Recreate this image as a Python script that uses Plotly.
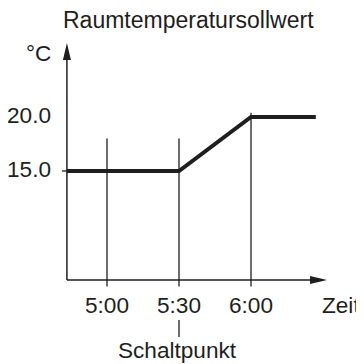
import plotly.graph_objects as go

# ---- data ----
time_labels = ["5:00", "5:30", "6:00"]
time_minutes = [300, 330, 360]          # minutes after midnight
switch_point = 330                      # Schaltpunkt (5:30)
profile_x = [283.3, 330, 360, 387]      # setpoint profile (minutes)
profile_y = [15.0, 15.0, 20.0, 20.0]    # °C
marker_tops = [18.0, 18.0, 20.4]        # tops of vertical time lines
y_tick_vals = [20.0, 15.0]
y_tick_text = ["20.0", "15.0"]

title_text = "Raumtemperatursollwert"
y_unit = "°C"
x_name = "Zeit"
switch_label = "Schaltpunkt"

# ---- layout helpers ----
OFF = 8                 # page body margin
W = H = 364 - OFF
x0_axis = 283.3     # origin in x (minutes)
y0_axis = 4.91      # origin in y (°C)
x_range = [258.75, 407.08]
y_range = [-2.87, 30.093]
ink = "#1e1e1e"
FONT = "Liberation Sans, Arial, sans-serif"
FS = 22.6

def px(x):
    return (x - OFF) / W

def py(y):
    return 1 - (y - OFF) / H

fig = go.Figure()

# vertical time lines (extend a bit below the axis)
vx, vy = [], []
for t, top in zip(time_minutes, marker_tops):
    vx += [t, t, None]
    vy += [4.3, top, None]
fig.add_trace(go.Scatter(x=vx, y=vy, mode="lines",
                         line=dict(color=ink, width=1.3),
                         hoverinfo="skip", showlegend=False))

# setpoint profile
fig.add_trace(go.Scatter(x=profile_x, y=profile_y, mode="lines",
                         line=dict(color=ink, width=4),
                         hoverinfo="skip", showlegend=False))

shapes = []
# axes
shapes.append(dict(type="line", xref="x", yref="y", x0=x0_axis, x1=x0_axis,
                   y0=y0_axis, y1=25.5, line=dict(color=ink, width=1.5)))
shapes.append(dict(type="line", xref="x", yref="y", x0=x0_axis, x1=388,
                   y0=y0_axis, y1=y0_axis, line=dict(color=ink, width=1.5)))
# arrow heads
shapes.append(dict(type="path", xref="x", yref="y", xsizemode="pixel", ysizemode="pixel",
                   xanchor=x0_axis, yanchor=26.85,
                   path="M0,0 L-4,-17 L4,-17 Z", fillcolor=ink, line=dict(width=0)))
shapes.append(dict(type="path", xref="x", yref="y", xsizemode="pixel", ysizemode="pixel",
                   xanchor=391.7, yanchor=y0_axis,
                   path="M0,0 L-17,4 L-17,-4 Z", fillcolor=ink, line=dict(width=0)))
# y tick at 15
shapes.append(dict(type="line", xref="x", yref="y", xsizemode="pixel",
                   xanchor=x0_axis, x0=-5, x1=0, y0=15, y1=15,
                   line=dict(color=ink, width=1.3)))
# small marker under 5:30
shapes.append(dict(type="line", xref="x", yref="paper", x0=switch_point, x1=switch_point,
                   y0=py(337), y1=py(320), line=dict(color=ink, width=1.3)))

ann = []
def txt(text, x, y, xref="paper", yref="paper", xanchor="center", yanchor="middle", size=FS):
    ann.append(dict(text=text, x=x, y=y, xref=xref, yref=yref, xanchor=xanchor,
                    yanchor=yanchor, showarrow=False,
                    font=dict(family=FONT, size=size, color=ink)))

txt(title_text, px(188), py(20), size=23)
txt(y_unit, px(53), py(53), xanchor="right")
for v, t in zip(y_tick_vals, y_tick_text):
    txt(t, px(53), v + 0.15, yref="y", xanchor="right")
for t, lab in zip(time_minutes, time_labels):
    txt(lab, t, py(305), xref="x")
txt(x_name, px(320), py(305), xanchor="left")
txt(switch_label, px(177.5), py(350))

fig.update_layout(
    width=W, height=H, autosize=False,
    margin=dict(l=0, r=0, t=0, b=0),
    paper_bgcolor="white", plot_bgcolor="white",
    xaxis=dict(visible=False, range=x_range, fixedrange=True),
    yaxis=dict(visible=False, range=y_range, fixedrange=True),
    shapes=shapes, annotations=ann, showlegend=False,
)

fig.write_html("out.html", config={"displayModeBar": False})
